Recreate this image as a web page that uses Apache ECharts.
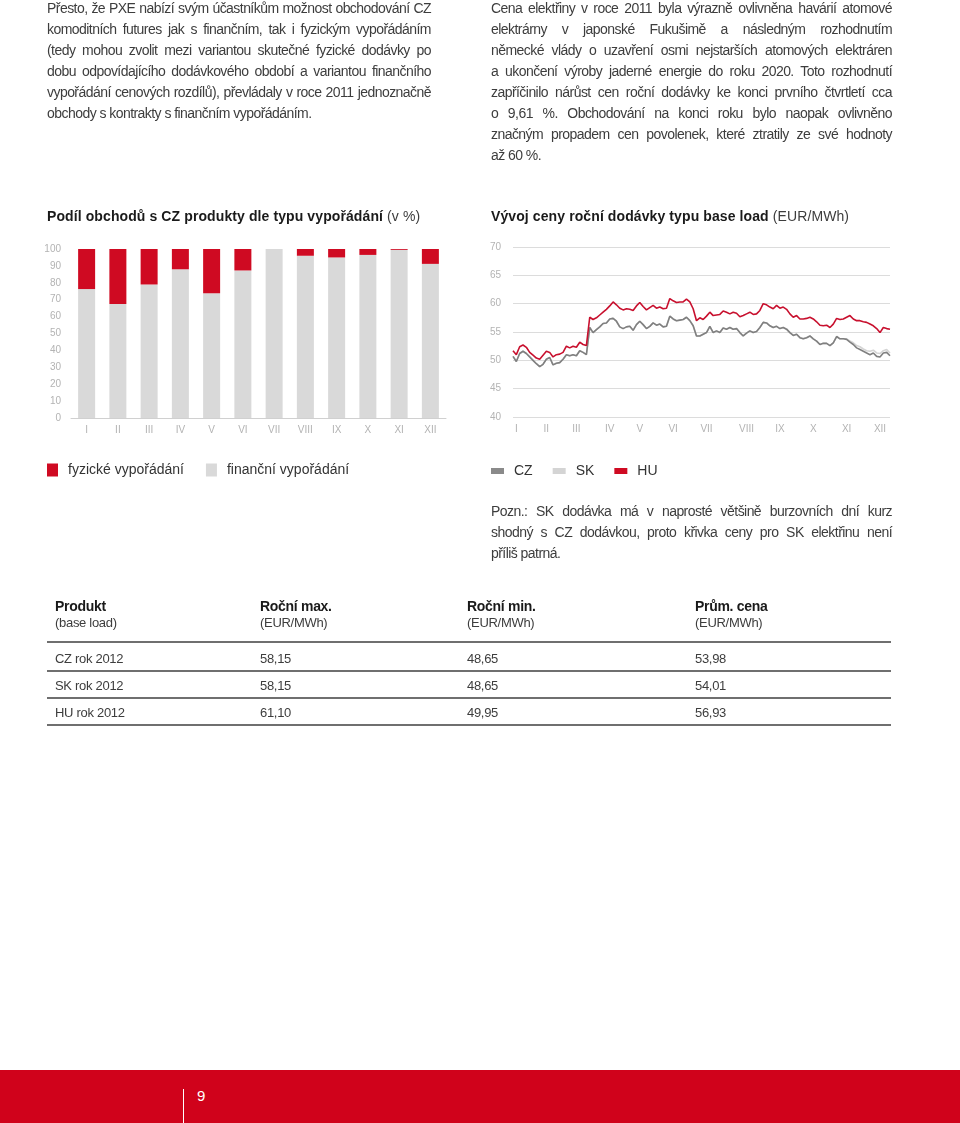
<!DOCTYPE html>
<html><head><meta charset="utf-8">
<script src="https://cdn.jsdelivr.net/npm/echarts@6/dist/echarts.min.js"></script>
<style>
html,body{margin:0;padding:0;background:#fff;}
body{width:960px;height:1123px;position:relative;overflow:hidden;font-family:"Liberation Sans",Arial,sans-serif;color:#3d3d3d;}
#chart{position:absolute;left:0;top:0;width:960px;height:1123px;}
.p{position:absolute;font-size:14px;line-height:21px;letter-spacing:-0.55px;}
.p div{white-space:nowrap;text-align:justify;text-align-last:justify;}
.p div.last{text-align-last:left;}
.h{position:absolute;font-size:14px;font-weight:bold;color:#1a1a1a;white-space:nowrap;letter-spacing:0.1px;}
.h span{font-weight:normal;color:#3d3d3d;}
.t{position:absolute;font-size:13px;white-space:nowrap;color:#3d3d3d;letter-spacing:-0.3px;}
.tb{font-weight:bold;font-size:14px;color:#1a1a1a;}
.ln{position:absolute;left:47px;width:844px;height:2px;background:#6f6f6f;}
#footer{position:absolute;left:0;top:1070px;width:960px;height:53px;background:#d0021b;}
</style></head>
<body>
<div id="chart"></div>

<div class="p" style="left:47px;top:-2px;width:384px;">
<div>Přesto, že PXE nabízí svým účastníkům možnost obchodování CZ</div>
<div>komoditních futures jak s finančním, tak i fyzickým vypořádáním</div>
<div>(tedy mohou zvolit mezi variantou skutečné fyzické dodávky po</div>
<div>dobu odpovídajícího dodávkového období a variantou finančního</div>
<div>vypořádání cenových rozdílů), převládaly v roce 2011 jednoznačně</div>
<div class="last">obchody s kontrakty s finančním vypořádáním.</div>
</div>

<div class="p" style="left:491px;top:-2px;width:401px;">
<div>Cena elektřiny v roce 2011 byla výrazně ovlivněna havárií atomové</div>
<div>elektrárny v japonské Fukušimě a následným rozhodnutím</div>
<div>německé vlády o uzavření osmi nejstarších atomových elektráren</div>
<div>a ukončení výroby jaderné energie do roku 2020. Toto rozhodnutí</div>
<div>zapříčinilo nárůst cen roční dodávky ke konci prvního čtvrtletí cca</div>
<div>o 9,61 %. Obchodování na konci roku bylo naopak ovlivněno</div>
<div>značným propadem cen povolenek, které ztratily ze své hodnoty</div>
<div class="last">až 60 %.</div>
</div>

<div class="h" style="left:47px;top:208px;">Podíl obchodů s CZ produkty dle typu vypořádání <span>(v %)</span></div>
<div class="h" style="left:491px;top:208px;">Vývoj ceny roční dodávky typu base load <span>(EUR/MWh)</span></div>

<div class="p" style="left:491px;top:501px;width:401px;">
<div>Pozn.: SK dodávka má v naprosté většině burzovních dní kurz</div>
<div>shodný s CZ dodávkou, proto křivka ceny pro SK elektřinu není</div>
<div class="last">příliš patrná.</div>
</div>

<div class="t tb" style="left:55px;top:598px;">Produkt</div>
<div class="t" style="left:55px;top:615px;">(base load)</div>
<div class="t tb" style="left:260px;top:598px;">Roční max.</div>
<div class="t" style="left:260px;top:615px;">(EUR/MWh)</div>
<div class="t tb" style="left:467px;top:598px;">Roční min.</div>
<div class="t" style="left:467px;top:615px;">(EUR/MWh)</div>
<div class="t tb" style="left:695px;top:598px;">Prům. cena</div>
<div class="t" style="left:695px;top:615px;">(EUR/MWh)</div>
<div class="ln" style="top:641px;"></div>
<div class="t" style="left:55px;top:651px;">CZ rok 2012</div>
<div class="t" style="left:260px;top:651px;">58,15</div>
<div class="t" style="left:467px;top:651px;">48,65</div>
<div class="t" style="left:695px;top:651px;">53,98</div>
<div class="ln" style="top:670px;"></div>
<div class="t" style="left:55px;top:678px;">SK rok 2012</div>
<div class="t" style="left:260px;top:678px;">58,15</div>
<div class="t" style="left:467px;top:678px;">48,65</div>
<div class="t" style="left:695px;top:678px;">54,01</div>
<div class="ln" style="top:697px;"></div>
<div class="t" style="left:55px;top:705px;">HU rok 2012</div>
<div class="t" style="left:260px;top:705px;">61,10</div>
<div class="t" style="left:467px;top:705px;">49,95</div>
<div class="t" style="left:695px;top:705px;">56,93</div>
<div class="ln" style="top:724px;"></div>

<div id="footer">
<div style="position:absolute;left:183px;top:19px;width:1px;height:34px;background:#fff;"></div>
<div style="position:absolute;left:197px;top:17px;font-size:15px;color:#fff;">9</div>
</div>

<script>
// Bar chart data (share of trades, %)
var months = ['I','II','III','IV','V','VI','VII','VIII','IX','X','XI','XII'];
var financni = [76.3, 67.5, 79.0, 88.0, 73.8, 87.3, 100, 96.0, 95.0, 96.5, 99.5, 91.2];
var fyzicke  = [23.7, 32.5, 21.0, 12.0, 26.2, 12.7, 0, 4.0, 5.0, 3.5, 0.5, 8.8];

// Line chart data (EUR/MWh), sampled across 2011 trading days
var monthStartIdx = [1, 10, 19, 29, 38, 48, 58, 70, 80, 90, 100, 110];
var HU = [51.7,51.0,52.4,52.7,52.3,51.4,50.9,50.4,50.2,50.9,
          51.6,51.4,50.6,51.0,51.1,51.4,52.5,52.2,52.5,52.3,
          53.2,52.8,52.6,57.6,57.2,57.5,58.0,58.5,59.0,59.6,
          60.3,59.8,59.2,58.9,59.1,59.0,58.8,59.6,60.2,59.5,
          58.9,59.3,59.7,59.2,59.4,59.1,59.2,60.9,60.5,60.2,
          60.3,60.3,60.8,60.3,59.1,57.0,57.5,57.2,57.8,58.5,
          57.9,58.0,58.1,58.7,58.5,58.2,58.5,58.3,57.7,57.9,
          58.2,58.5,58.1,58.2,58.8,60.0,59.8,59.4,59.1,59.7,
          59.2,59.4,59.0,58.2,57.6,57.9,57.3,57.3,57.4,57.6,
          57.3,56.8,56.2,56.1,56.2,55.8,56.4,57.4,57.2,57.3,
          57.6,57.9,57.3,57.0,57.0,56.8,56.7,56.4,56.1,55.6,
          54.9,55.8,55.6,55.5];
var CZ = [50.7,49.8,51.2,51.6,51.2,50.6,50.0,49.4,48.9,49.3,
          50.2,50.5,49.2,49.5,49.6,50.2,51.0,50.8,51.0,50.8,
          51.7,51.4,51.0,55.8,54.9,55.4,55.9,56.5,56.6,57.3,
          57.4,56.9,55.9,55.6,55.9,56.0,55.3,56.3,56.9,56.3,
          55.6,56.0,56.6,56.2,56.4,55.9,56.0,57.8,57.3,57.0,
          57.1,57.2,57.6,57.0,56.1,54.3,54.3,54.6,54.9,56.0,
          54.9,55.2,54.9,55.7,55.5,55.8,55.5,55.6,54.9,54.3,
          54.8,55.2,54.9,55.1,55.8,56.7,56.6,56.1,55.8,56.0,
          55.6,55.8,55.5,54.9,54.4,54.6,54.0,53.8,54.0,54.3,
          53.8,53.4,52.8,53.0,53.0,52.6,53.1,54.2,53.8,53.8,
          53.7,53.2,52.8,52.2,51.9,51.6,51.3,51.0,51.3,50.7,
          50.6,51.3,51.4,50.8];
var SK = [50.7,49.8,51.2,51.6,51.2,50.6,50.0,49.4,48.9,49.3,
          50.2,50.5,49.2,49.5,49.6,50.2,51.0,50.8,51.0,50.8,
          51.7,51.4,51.0,55.8,54.9,55.4,55.9,56.5,56.6,57.3,
          57.4,56.9,55.9,55.6,55.9,56.0,55.3,56.3,56.9,56.3,
          55.6,56.0,56.6,56.2,56.4,55.9,56.0,57.8,57.3,57.0,
          57.1,57.2,57.6,57.0,56.1,54.3,54.3,54.6,54.9,56.0,
          54.9,55.2,54.9,55.7,55.5,55.8,55.5,55.6,54.9,54.3,
          54.8,55.2,54.9,55.1,55.8,56.7,56.6,56.1,55.8,56.0,
          55.6,55.8,55.5,54.9,54.4,54.6,54.0,53.8,54.0,54.3,
          53.8,53.4,52.8,53.0,53.0,52.6,53.1,54.2,53.8,53.8,
          53.8,53.4,53.1,52.6,52.4,52.0,51.7,51.6,51.8,51.3,
          51.2,51.7,51.9,51.3];

var lineX = [];
for (var i = 0; i < HU.length; i++) {
  var k = monthStartIdx.indexOf(i);
  lineX.push(k >= 0 ? months[k] : '');
}

var RED = '#cf0a22', LGRAY = '#d9d9d9', LABEL = '#b3b3b3';
var chart = echarts.init(document.getElementById('chart'), null, {renderer:'canvas'});
chart.setOption({
  animation: false,
  textStyle: {fontFamily: 'Liberation Sans, Arial, sans-serif'},
  legend: [
    {left: 47, top: 463, padding: 0, itemWidth: 11, itemHeight: 13, itemGap: 22, icon: 'rect',
     textStyle: {fontSize: 14, color: '#333', padding: [0,0,0,5]},
     data: ['fyzické vypořádání', 'finanční vypořádání']},
    {left: 491, top: 464, padding: 0, itemWidth: 13, itemHeight: 6, itemGap: 20, icon: 'rect',
     textStyle: {fontSize: 14, color: '#333', padding: [0,0,0,5]},
     data: ['CZ', 'SK', 'HU']}
  ],
  grid: [
    {left: 71, top: 249, width: 375, height: 169},
    {left: 513, top: 247, width: 377, height: 170}
  ],
  xAxis: [
    {gridIndex: 0, type: 'category', data: months,
     axisLine: {lineStyle: {color: '#d0d0d0'}}, axisTick: {show: false},
     axisLabel: {color: LABEL, fontSize: 10, margin: 7}},
    {gridIndex: 1, type: 'category', data: lineX, boundaryGap: false,
     axisLine: {show: false}, axisTick: {show: false},
     axisLabel: {color: LABEL, fontSize: 10, margin: 7,
       interval: function (idx) { return monthStartIdx.indexOf(idx) >= 0; }}}
  ],
  yAxis: [
    {gridIndex: 0, type: 'value', min: 0, max: 100, interval: 10,
     splitLine: {show: false}, axisLine: {show: false}, axisTick: {show: false},
     axisLabel: {color: LABEL, fontSize: 10, margin: 10}},
    {gridIndex: 1, type: 'value', min: 40, max: 70, interval: 5,
     splitLine: {lineStyle: {color: '#dcdcdc', width: 1}}, axisLine: {show: false}, axisTick: {show: false},
     axisLabel: {color: LABEL, fontSize: 10, margin: 12}}
  ],
  series: [
    {name: 'finanční vypořádání', type: 'bar', stack: 'a', xAxisIndex: 0, yAxisIndex: 0,
     barWidth: 17, itemStyle: {color: LGRAY}, data: financni},
    {name: 'fyzické vypořádání', type: 'bar', stack: 'a', xAxisIndex: 0, yAxisIndex: 0,
     barWidth: 17, itemStyle: {color: RED}, data: fyzicke},
    {name: 'SK', type: 'line', xAxisIndex: 1, yAxisIndex: 1, showSymbol: false,
     lineStyle: {color: '#d4d4d4', width: 1.6}, itemStyle: {color: '#d4d4d4'}, data: SK},
    {name: 'CZ', type: 'line', xAxisIndex: 1, yAxisIndex: 1, showSymbol: false,
     lineStyle: {color: '#808080', width: 1.6}, itemStyle: {color: '#8a8a8a'}, data: CZ},
    {name: 'HU', type: 'line', xAxisIndex: 1, yAxisIndex: 1, showSymbol: false,
     lineStyle: {color: '#c8102e', width: 1.6}, itemStyle: {color: RED}, data: HU}
  ]
});
</script>
</body></html>
